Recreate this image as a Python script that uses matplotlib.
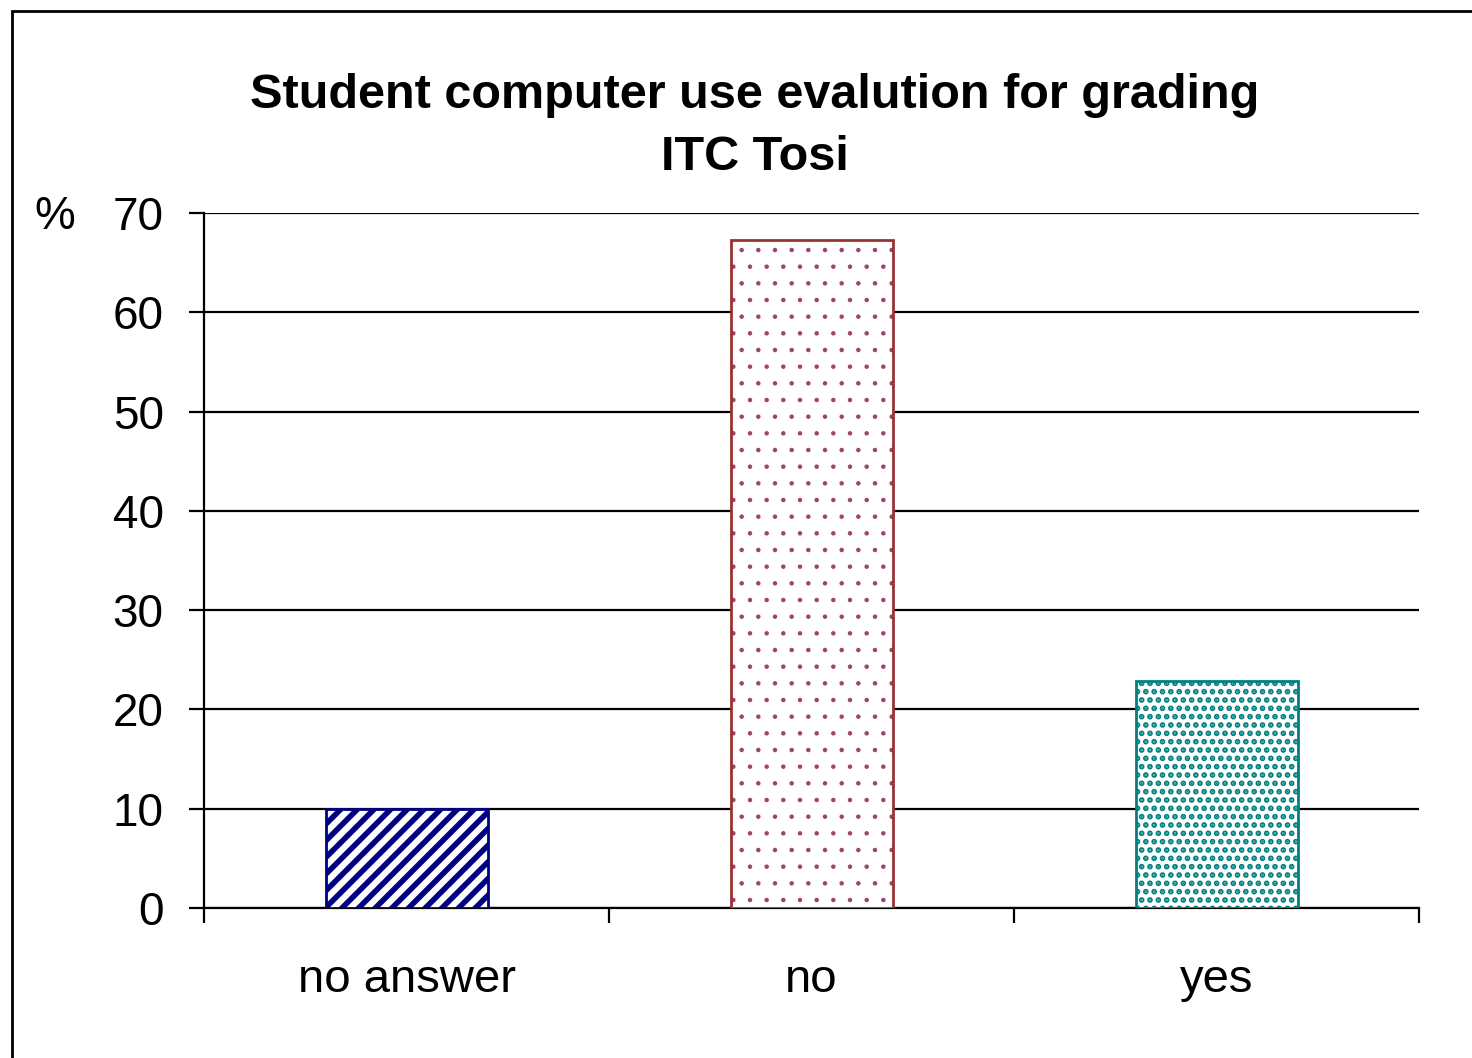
import numpy as np
import matplotlib
matplotlib.use("Agg")
import matplotlib.pyplot as plt
from matplotlib.patches import Rectangle

plt.rcParams["font.family"] = ["Liberation Sans", "DejaVu Sans"]

# data
categories = ["no answer", "no", "yes"]
percent = [10.0, 67.3, 22.9]

hatch_colors = ["#000080", "#a0407a", "#008080"]
edge_colors = ["#000080", "#993333", "#008080"]
hatches = ["//", ".", ".."]
hatch_widths = [4.0, 0.8, 2.8]

fig = plt.figure(figsize=(14.72, 10.58), dpi=100)
ax = fig.add_axes([204 / 1472, 1 - 908 / 1058, 1215 / 1472, 695 / 1058])

x = np.arange(len(categories))
for i in range(len(categories)):
    b = ax.bar(x[i], percent[i], width=0.4, color="white", edgecolor=hatch_colors[i],
               hatch=hatches[i], linewidth=0, zorder=3)
    if hasattr(b[0], "set_hatch_linewidth"):
        b[0].set_hatch_linewidth(hatch_widths[i])
    ax.bar(x[i], percent[i], width=0.4, fill=False, edgecolor=edge_colors[i],
           linewidth=2, zorder=4)

ax.set_xlim(-0.5, 2.5)
ax.set_ylim(0, 70)
ax.set_yticks(np.arange(0, 71, 10))
ax.yaxis.grid(True, color="black", linewidth=1.6, zorder=1)
ax.set_axisbelow(True)

ax.set_xticks(x)
ax.set_xticklabels(categories)
ax.set_xticks([-0.5, 0.5, 1.5, 2.5], minor=True)
ax.tick_params(axis="x", which="major", length=0, pad=36, labelsize=34)
ax.tick_params(axis="x", which="minor", length=11, width=1.6, direction="out")
ax.tick_params(axis="y", length=11, width=1.6, pad=18, labelsize=33)

for side in ["top", "right"]:
    ax.spines[side].set_visible(False)
for side in ["left", "bottom"]:
    ax.spines[side].set_linewidth(1.6)
    ax.spines[side].set_color("black")

fig.text(755 / 1472, 1 - 96 / 1058, "Student computer use evalution for grading",
         ha="center", va="center", fontsize=35, fontweight="bold")
fig.text(755 / 1472, 1 - 157 / 1058, "ITC Tosi",
         ha="center", va="center", fontsize=35, fontweight="bold")
fig.text(55 / 1472, 1 - 217 / 1058, "%", ha="center", va="center", fontsize=33)

# outer chart frame
fig.patches.append(Rectangle((12 / 1472, -0.1), 1.2, 1.1 - 11 / 1058,
                             transform=fig.transFigure, fill=False,
                             edgecolor="black", linewidth=2))

fig.savefig("out.png", dpi=100, facecolor="white")
